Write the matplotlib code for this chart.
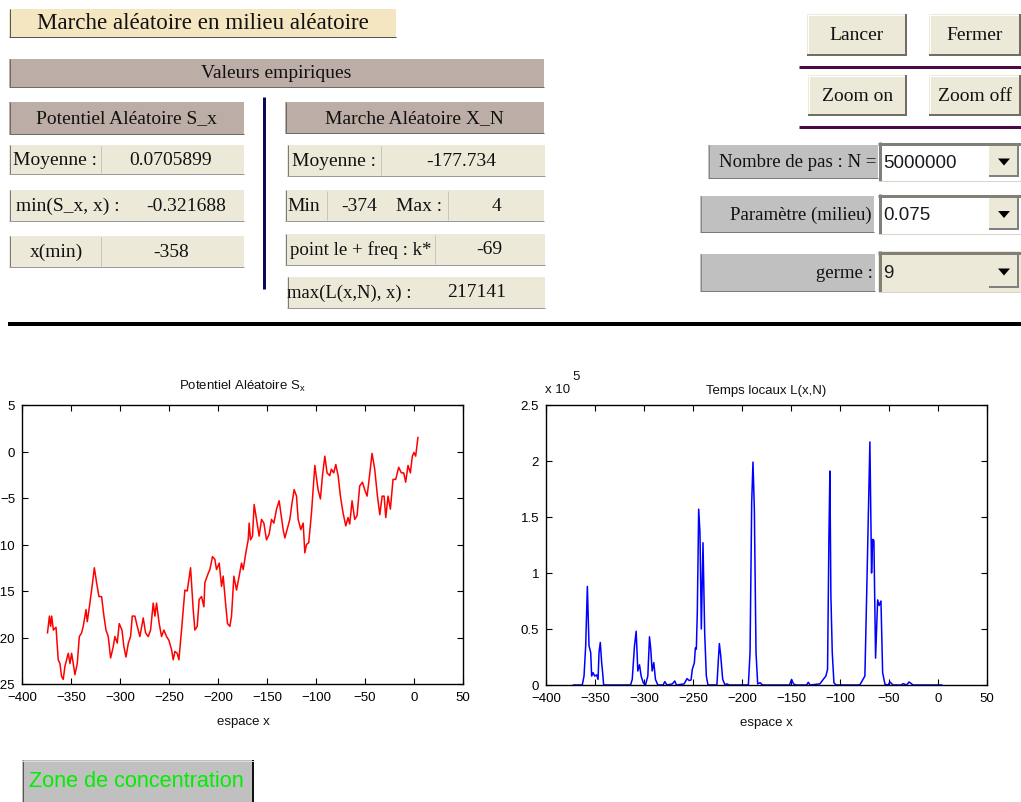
import matplotlib
matplotlib.use("Agg")
import matplotlib.pyplot as plt
from matplotlib.patches import Rectangle, Polygon
from matplotlib.ticker import FuncFormatter

plt.rcParams['font.family'] = ['Liberation Sans', 'DejaVu Sans']
plt.rcParams['mathtext.default'] = 'regular'

# ---------------- data ----------------
potential_x = [-374, -372, -370.8, -369.7, -368, -365.3, -363, -361.3, -359.6, -357.9,
               -356.2, -354.5, -352.8, -351, -349.4, -347.7, -346, -343.6, -341.5, -339.2,
               -337.5, -334.7, -333.4, -330.7, -328, -326.2, -323.9, -321.5, -318.8, -316.4,
               -314.3, -312, -309.6, -306.9, -305.2, -302.8, -300.8, -298, -296, -293.9,
               -291.5, -289.2, -287.5, -284.8, -282.4, -279.7, -276.3, -273.9, -271.2, -268.8,
               -266.1, -264.4, -262.7, -260, -257.6, -255.2, -252.5, -250.1, -247.4, -245.7,
               -244, -241.6, -239.9, -237.2, -233.8, -231.4, -228, -225.3, -223.6, -221.2,
               -219.2, -216.8, -214.4, -213.4, -210, -208.3, -205.6, -203.2, -201.5, -198.8,
               -196.4, -194.7, -192.3, -190.3, -187.9, -186.2, -183.8, -181.1, -178.4, -176,
               -174.3, -171.6, -169.2, -168.2, -166.8, -164.8, -163.1, -160.7, -158, -155.6,
               -153.2, -150.5, -147.8, -145.4, -143, -140.3, -137.6, -135.9, -133.5, -131.8,
               -129.5, -126.7, -124.4, -122.3, -119.9, -118.2, -115.5, -113.1, -111.4, -109.7,
               -107.4, -104.6, -101.2, -97.9, -95.5, -93.4, -91, -88.7, -86, -84.3,
               -81.9, -79.8, -77.4, -75.1, -72.4, -69.6, -67.3, -65.6, -63.2, -60.5,
               -58.1, -55.4, -52.6, -50.3, -47.9, -45.8, -42.8, -40.1, -37.3, -34.9,
               -32.5, -30.5, -28.8, -26.5, -24.1, -21.4, -18.7, -15.6, -12.9, -10.5,
               -8.5, -6.1, -3.7, -1.7, 0, 1.7, 4]
potential_s = [-19.5, -17.7, -18.8, -17.7, -19.2, -18.9, -22.4, -22.8, -24.2, -24.5,
               -23.1, -22.4, -21.7, -22.8, -21.7, -22.8, -24.0, -22.8, -19.9, -19.5,
               -18.8, -17.0, -18.3, -16.3, -14.1, -12.5, -14.1, -15.6, -15.6, -17.7,
               -19.2, -19.9, -22.2, -21.0, -19.9, -20.6, -18.5, -19.2, -21.0, -22.1,
               -20.6, -19.9, -17.7, -17.7, -18.8, -19.9, -17.9, -19.5, -19.9, -19.2,
               -16.3, -17.7, -16.3, -18.5, -19.9, -19.2, -19.9, -20.3, -21.3, -22.4,
               -21.5, -21.7, -22.4, -19.2, -14.9, -15.0, -12.5, -17.0, -19.2, -18.8,
               -15.9, -15.6, -16.7, -14.1, -13.1, -12.7, -11.3, -11.6, -12.7, -12.0,
               -14.5, -13.4, -16.3, -18.5, -18.8, -17.7, -13.4, -14.9, -13.4, -12.0,
               -12.7, -10.9, -9.5, -7.7, -9.5, -9.1, -5.7, -7.3, -9.1, -7.3,
               -7.7, -9.5, -8.9, -7.3, -7.7, -6.2, -5.3, -6.6, -8.4, -9.3,
               -8.4, -7.3, -5.5, -4.1, -4.8, -7.3, -8.4, -7.7, -10.9, -10.0,
               -9.8, -6.6, -1.5, -4.1, -5.1, -2.6, -0.5, -2.3, -2.6, -1.9,
               -2.3, -1.4, -2.6, -4.8, -6.6, -8.0, -7.1, -7.8, -5.3, -7.3,
               -6.9, -3.7, -3.3, -4.1, -4.8, -3.0, -0.2, -1.9, -4.8, -6.8,
               -4.8, -4.8, -7.1, -4.8, -6.2, -3.0, -3.0, -1.7, -2.3, -2.3,
               -3.3, -1.5, -2.3, -0.5, -0.1, -0.5, 1.5]

local_x = [-372, -363, -361.2, -359.5, -357.8, -356.1, -354.4, -353.4, -352, -350.3,
           -348.3, -346.9, -345.9, -344.6, -343.2, -342.2, -341.2, -313.7, -312, -309.7,
           -308, -306.3, -304.6, -302.9, -300.8, -298.5, -296.1, -294.4, -293.1, -291.7,
           -290, -288.3, -285.9, -280.5, -278.8, -276.5, -271, -268.6, -266.9, -259,
           -256.1, -254, -252, -250.7, -248.6, -247.6, -246.6, -245.6, -244.2, -242.9,
           -241.5, -239.8, -238.1, -236.4, -234.7, -225.6, -224.1, -223.1, -221.7, -219.7,
           -217.3, -215.6, -213, -193.5, -191.8, -190.1, -188.8, -187.4, -185.7, -184,
           -181.6, -179, -151.5, -149.4, -147.5, -145, -134, -132.4, -130.5, -120.5,
           -117.1, -114.4, -112.7, -111.3, -110.3, -109.3, -107.9, -106.2, -104, -79.8,
           -74.6, -72.9, -69.5, -67.8, -66.7, -65.4, -63.7, -61.6, -60, -58.2,
           -56.5, -54.1, -51, -49, -45.9, -37.5, -35.6, -32, -29.5, -25.4, 4]
local_L_1e5 = [0, 0, 0.08, 0.35, 0.88, 0.35, 0.29, 0.08, 0.11, 0.08,
               0.09, 0.05, 0.29, 0.38, 0.2, 0.11, 0, 0, 0.05, 0.35,
               0.48, 0.125, 0.18, 0.08, 0.02, 0, 0.08, 0.43, 0.32, 0.125,
               0.2, 0.05, 0, 0, 0.03, 0, 0.01, 0.036, 0, 0.01,
               0.057, 0.04, 0.045, 0.14, 0.2, 0.33, 0.32, 0.65, 1.57, 1.36,
               0.5, 1.27, 0.47, 0.08, 0, 0, 0.23, 0.37, 0.26, 0.05,
               0, 0.01, 0, 0, 0.29, 1.63, 1.99, 1.57, 0.29, 0.01,
               0.02, 0, 0, 0.05, 0.01, 0, 0, 0.024, 0, 0.01,
               0.05, 0.08, 0.14, 1.33, 1.91, 0.8, 0.29, 0.02, 0, 0,
               0.08, 0.76, 2.17, 1.0, 1.30, 1.29, 0.24, 0.76, 0.71, 0.75,
               0.11, 0.006, 0, 0.027, 0, 0, 0.012, 0, 0.027, 0, 0]

x_ticks = [-400, -350, -300, -250, -200, -150, -100, -50, 0, 50]
s_ticks = [-25, -20, -15, -10, -5, 0, 5]
l_ticks = [0, 0.5, 1, 1.5, 2, 2.5]

stats_left = [("Moyenne :", "0.0705899"), ("min(S_x, x) :", "-0.321688"), ("x(min)", "-358")]
stats_right_mean = ("Moyenne :", "-177.734")
stats_right_minmax = ("Min", "-374", "Max :", "4")
stats_right_freq = ("point le + freq : k*", "-69")
stats_right_maxL = ("max(L(x,N), x) :", "217141")
combo_entries = [("Nombre de pas : N =", "5000000"), ("Paramètre (milieu)", "0.075"), ("germe :", "9")]

# ---------------- figure ----------------
W, H = 1021, 803
fig = plt.figure(figsize=(W / 100, H / 100), dpi=100)
bg = fig.add_axes([0, 0, 1, 1])
bg.set_xlim(0, W)
bg.set_ylim(H, 0)
bg.axis('off')

SERIF = ['Liberation Serif', 'DejaVu Serif']
SANS = ['Liberation Sans', 'DejaVu Sans']
PX = 0.72  # points per pixel
BEIGE = '#ECE9D8'
MAUVE = '#BCAEA6'
GREY = '#C0C0C0'


def rect(x0, y0, x1, y1, fc):
    bg.add_patch(Rectangle((x0, y0), x1 - x0, y1 - y0, fc=fc, ec='none', lw=0))


def line(xs, ys, color, wpx):
    bg.plot(xs, ys, color=color, lw=wpx * PX, solid_capstyle='butt')


def txt(x, y, s, size=14, ha='center', family=SERIF, color='#111111', **kw):
    bg.text(x, y, s, fontsize=size, ha=ha, va='center', family=family, color=color, **kw)


def cell(x0, y0, x1, y1):
    rect(x0, y0, x1, y1, BEIGE)
    line([x0 + 0.5, x0 + 0.5], [y0, y1], '#7a7a7a', 1)
    line([x0, x1], [y1 - 0.5, y1 - 0.5], '#9a9a9a', 1)


def divider(x, y0, y1):
    line([x, x], [y0, y1], '#c9c5b9', 1)


def header(x0, y0, x1, y1, s):
    rect(x0, y0, x1, y1, MAUVE)
    line([x0 + 0.5, x0 + 0.5], [y0, y1], '#6f6a66', 1)
    line([x0, x1], [y1 - 0.5, y1 - 0.5], '#6f6a66', 1)
    txt((x0 + x1) / 2, (y0 + y1) / 2, s)


def button(x0, y0, x1, y1, s):
    rect(x0, y0, x1, y1, BEIGE)
    line([x0, x1], [y0 + 0.5, y0 + 0.5], 'white', 1)
    line([x0 + 0.5, x0 + 0.5], [y0, y1], 'white', 1)
    line([x1 - 1, x1 - 1], [y0, y1], '#716f64', 2)
    line([x0, x1], [y1 - 1, y1 - 1], '#716f64', 2)
    txt((x0 + x1) / 2, (y0 + y1) / 2, s)


# Title box
rect(9, 10, 396, 38, '#F5E6C2')
line([9.5, 9.5], [10, 38], '#555555', 1)
line([9, 396], [37.5, 37.5], '#555555', 1)
txt(203, 23.5, "Marche aléatoire en milieu aléatoire", size=16.6)

# Valeurs empiriques
header(9, 60, 544, 88, "Valeurs empiriques")
header(9, 103, 244, 135, "Potentiel Aléatoire S_x")
header(285, 103, 544, 134, "Marche Aléatoire X_N")

# navy vertical separator
line([264, 264], [98, 290], '#0b0b55', 3)

# left stat cells
left_rows = [(146, 175), (191, 222), (237, 268)]
for (lab, val), (y0, y1) in zip(stats_left, left_rows):
    cell(9, y0, 244, y1)
    cy = (y0 + y1) / 2
    if lab.startswith("min"):
        txt(68, cy, lab)
        txt(186, cy, val)
    else:
        divider(101, y0 + 1, y1 - 1)
        txt(56 if lab == "x(min)" else 55, cy, lab)
        txt(171, cy, val)

# right stat cells
cell(287, 146, 545, 177)
divider(381, 147, 176)
txt(334, 161, stats_right_mean[0])
txt(461, 161, stats_right_mean[1])

cell(285, 191, 544, 222)
divider(327, 192, 221)
divider(448, 192, 221)
txt(304, 206.5, stats_right_minmax[0])
txt(359, 206.5, stats_right_minmax[1])
txt(419, 206.5, stats_right_minmax[2])
txt(496, 206.5, stats_right_minmax[3])

cell(285, 235, 545, 266)
divider(434.5, 236, 265)
txt(361, 250, stats_right_freq[0], size=13.6)
txt(489, 250, stats_right_freq[1])

cell(287, 278, 545, 309)
txt(349, 293, stats_right_maxL[0], size=13.4)
txt(477, 293, stats_right_maxL[1])

# buttons
button(807, 15, 907, 57, "Lancer")
button(929, 15, 1021, 57, "Fermer")
line([799, 1021], [68, 68], '#4b0a47', 3)
button(808, 76, 907, 117, "Zoom on")
button(929, 76, 1021, 117, "Zoom off")
line([799, 1021], [127.5, 127.5], '#4b0a47', 3)

# combo boxes
combo_geom = [((708, 146, 878, 179), (878, 143, 1021, 182), 'white'),
              ((700, 197, 874, 233), (878, 195, 1021, 235), 'white'),
              ((700, 255, 875, 292), (878, 252, 1021, 293), BEIGE)]
for (lab, val), (lb, cb, fill) in zip(combo_entries, combo_geom):
    x0, y0, x1, y1 = lb
    rect(x0, y0, x1, y1, GREY)
    line([x0 + 0.5, x0 + 0.5], [y0, y1], '#8a8a8a', 1)
    line([x0, x1], [y1 - 0.5, y1 - 0.5], '#7a7a7a', 1)
    txt(x1 - 2, (y0 + y1) / 2, lab, ha='right', size=13.5)
    cx0, cy0, cx1, cy1 = cb
    rect(cx0, cy0, cx1, cy1, fill)
    line([cx0, cx1], [cy0 + 1.5, cy0 + 1.5], '#808078', 3)
    line([cx0 + 1.5, cx0 + 1.5], [cy0, cy1], '#808078', 3)
    line([cx0, cx1], [cy1 - 0.5, cy1 - 0.5], '#d8d4c8', 1)
    txt(cx0 + 5, (cy0 + cy1) / 2 + 1, val, ha='left', size=13.5,
        family=SANS, color='#1a1a1a')
    bx0, by0, bx1, by1 = 989, cy0 + 4, 1019, cy1 - 4
    rect(bx0, by0, bx1, by1, BEIGE)
    line([bx1 - 1, bx1 - 1], [by0, by1], '#808080', 2)
    line([bx0, bx1], [by1 - 1, by1 - 1], '#808080', 2)
    mx, my = (bx0 + bx1) / 2, (by0 + by1) / 2
    bg.add_patch(Polygon([(mx - 6, my - 3), (mx + 6, my - 3), (mx, my + 4)],
                         closed=True, fc='black', ec='none'))

# thick horizontal rule
line([8, 1021], [324.5, 324.5], 'black', 4)

# bottom button
rect(22, 761, 254, 803, GREY)
line([22.5, 22.5], [761, 803], '#555555', 1)
line([253, 253], [761, 803], '#111111', 2)
line([22, 254], [761.5, 761.5], '#dcdcdc', 1)
txt(136.5, 782, "Zone de concentration", size=15.6, family=SANS, color='#00ee00')

# ---------------- plots ----------------
def pax(x0, y0, x1, y1):
    return fig.add_axes([x0 / W, 1 - y1 / H, (x1 - x0) / W, (y1 - y0) / H])


def style(ax):
    ax.tick_params(direction='in', top=True, right=True, length=4, width=0.8,
                   labelsize=9.5, pad=5)
    for sp in ax.spines.values():
        sp.set_linewidth(1.0)
    ax.set_xlim(-400, 50)
    ax.set_xticks(x_ticks)


ax1 = pax(22, 406, 463, 685)
ax1.plot(potential_x, potential_s, color='#ff0000', lw=1.1)
style(ax1)
ax1.set_ylim(-25, 5)
ax1.set_yticks(s_ticks)

ax2 = pax(546, 406, 987, 686)
ax2.plot(local_x, local_L_1e5, color='#0000ff', lw=1.1)
style(ax2)
ax2.set_ylim(0, 2.5)
ax2.set_yticks(l_ticks)
ax2.yaxis.set_major_formatter(FuncFormatter(lambda v, p: '%g' % v))

txt(242, 386, "Potentiel Aléatoire S$_x$", size=9.5, family=SANS)
txt(243, 722, "espace x", size=9.5, family=SANS)
txt(766, 391.5, "Temps locaux L(x,N)", size=9.5, family=SANS)
txt(766, 723, "espace x", size=9.5, family=SANS)
txt(545, 390, "x 10", size=9.5, family=SANS, ha='left')
txt(572, 377, "5", size=9.5, family=SANS, ha='left')

fig.savefig("out.png", dpi=100)
